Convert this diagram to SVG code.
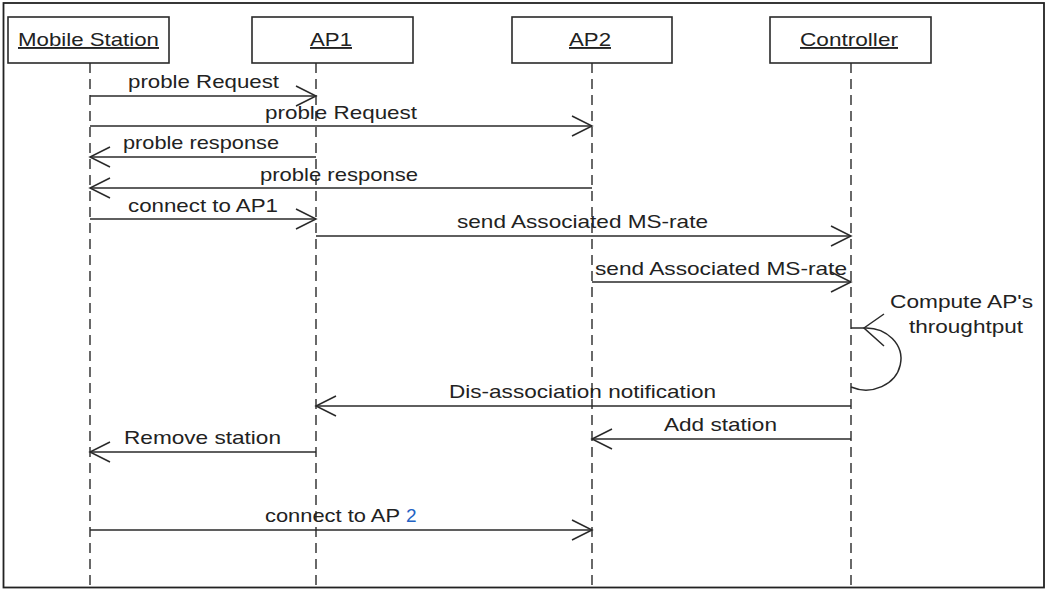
<svg xmlns="http://www.w3.org/2000/svg" width="1048" height="590" viewBox="0 0 1048 590">
  <style>
    .frame { fill: #ffffff; stroke: #222; stroke-width: 1.8; }
    .box { fill: #ffffff; stroke: #2a2a2a; stroke-width: 1.6; }
    .life { stroke: #2a2a2a; stroke-width: 1.4; stroke-dasharray: 10 6; fill: none; }
    .msg { stroke: #2a2a2a; stroke-width: 1.5; fill: none; }
    .lbl { font-family: "Liberation Sans", Arial, sans-serif; font-size: 19px; fill: #222; }
    .name { text-decoration: underline; }
  </style>
  <defs>
    <marker id="open" markerUnits="userSpaceOnUse" markerWidth="24" markerHeight="24" viewBox="-22 -12 24 24" refX="0" refY="0" orient="auto">
      <path d="M-20,-10 L0,0 L-20,10" fill="none" stroke="#2a2a2a" stroke-width="1.5"/>
    </marker>
  </defs>

  <!-- outer frame -->
  <rect class="frame" x="3.5" y="3" width="1040.5" height="584.5"/>

  <!-- participants -->
  <g id="mobile-station">
    <rect class="box" x="8" y="17" width="161" height="46"/>
    <text class="lbl name" x="18" y="46" textLength="141" lengthAdjust="spacingAndGlyphs">Mobile Station</text>
    <line class="life" x1="90" y1="63" x2="90" y2="587"/>
  </g>
  <g id="ap1">
    <rect class="box" x="252" y="17" width="161" height="46"/>
    <text class="lbl name" x="310" y="46" textLength="42" lengthAdjust="spacingAndGlyphs">AP1</text>
    <line class="life" x1="316" y1="63" x2="316" y2="587"/>
  </g>
  <g id="ap2">
    <rect class="box" x="512" y="17" width="160" height="46"/>
    <text class="lbl name" x="569" y="46" textLength="42" lengthAdjust="spacingAndGlyphs">AP2</text>
    <line class="life" x1="592" y1="63" x2="592" y2="587"/>
  </g>
  <g id="controller">
    <rect class="box" x="770" y="17" width="161" height="46"/>
    <text class="lbl name" x="800" y="46" textLength="98" lengthAdjust="spacingAndGlyphs">Controller</text>
    <line class="life" x1="851" y1="63" x2="851" y2="587"/>
  </g>

  <!-- messages -->
  <g id="connectors">
    <line class="msg" x1="90" y1="96" x2="316" y2="96" marker-end="url(#open)"/>
    <line class="msg" x1="90" y1="126" x2="592" y2="126" marker-end="url(#open)"/>
    <line class="msg" x1="316" y1="157" x2="90" y2="157" marker-end="url(#open)"/>
    <line class="msg" x1="592" y1="188" x2="90" y2="188" marker-end="url(#open)"/>
    <line class="msg" x1="90" y1="219" x2="316" y2="219" marker-end="url(#open)"/>
    <line class="msg" x1="316" y1="236" x2="851" y2="236" marker-end="url(#open)"/>
    <line class="msg" x1="592" y1="282" x2="851" y2="282" marker-end="url(#open)"/>
    <!-- self call on the controller -->
    <path class="msg" d="M851,328 L864,328"/>
    <path class="msg" d="M864,328 A35,31 0 1 1 851,387"/>
    <path class="msg" d="M884,314 L864,328 L884,346"/>
    <line class="msg" x1="851" y1="406" x2="316" y2="406" marker-end="url(#open)"/>
    <line class="msg" x1="851" y1="439" x2="592" y2="439" marker-end="url(#open)"/>
    <line class="msg" x1="316" y1="452" x2="90" y2="452" marker-end="url(#open)"/>
    <line class="msg" x1="90" y1="530" x2="592" y2="530" marker-end="url(#open)"/>
  </g>

  <!-- message labels -->
  <g id="labels">
    <text class="lbl" x="128" y="88" textLength="151" lengthAdjust="spacingAndGlyphs">proble Request</text>
    <text class="lbl" x="265" y="119" textLength="152" lengthAdjust="spacingAndGlyphs">proble Request</text>
    <text class="lbl" x="123" y="149" textLength="156" lengthAdjust="spacingAndGlyphs">proble response</text>
    <text class="lbl" x="260" y="181" textLength="158" lengthAdjust="spacingAndGlyphs">proble response</text>
    <text class="lbl" x="128" y="212" textLength="150" lengthAdjust="spacingAndGlyphs">connect to AP1</text>
    <text class="lbl" x="457" y="228" textLength="251" lengthAdjust="spacingAndGlyphs">send Associated MS-rate</text>
    <text class="lbl" x="595" y="275" textLength="252" lengthAdjust="spacingAndGlyphs">send Associated MS-rate</text>
    <text class="lbl" x="890" y="308" textLength="143" lengthAdjust="spacingAndGlyphs">Compute AP's</text>
    <text class="lbl" x="909" y="333" textLength="114" lengthAdjust="spacingAndGlyphs">throughtput</text>
    <text class="lbl" x="449" y="398" textLength="267" lengthAdjust="spacingAndGlyphs">Dis-association notification</text>
    <text class="lbl" x="664" y="431" textLength="113" lengthAdjust="spacingAndGlyphs">Add station</text>
    <text class="lbl" x="124" y="444" textLength="157" lengthAdjust="spacingAndGlyphs">Remove station</text>
    <text class="lbl" y="522"><tspan x="265" textLength="135" lengthAdjust="spacingAndGlyphs">connect to AP</tspan><tspan x="406" fill="#2463c4">2</tspan></text>
  </g>
</svg>
